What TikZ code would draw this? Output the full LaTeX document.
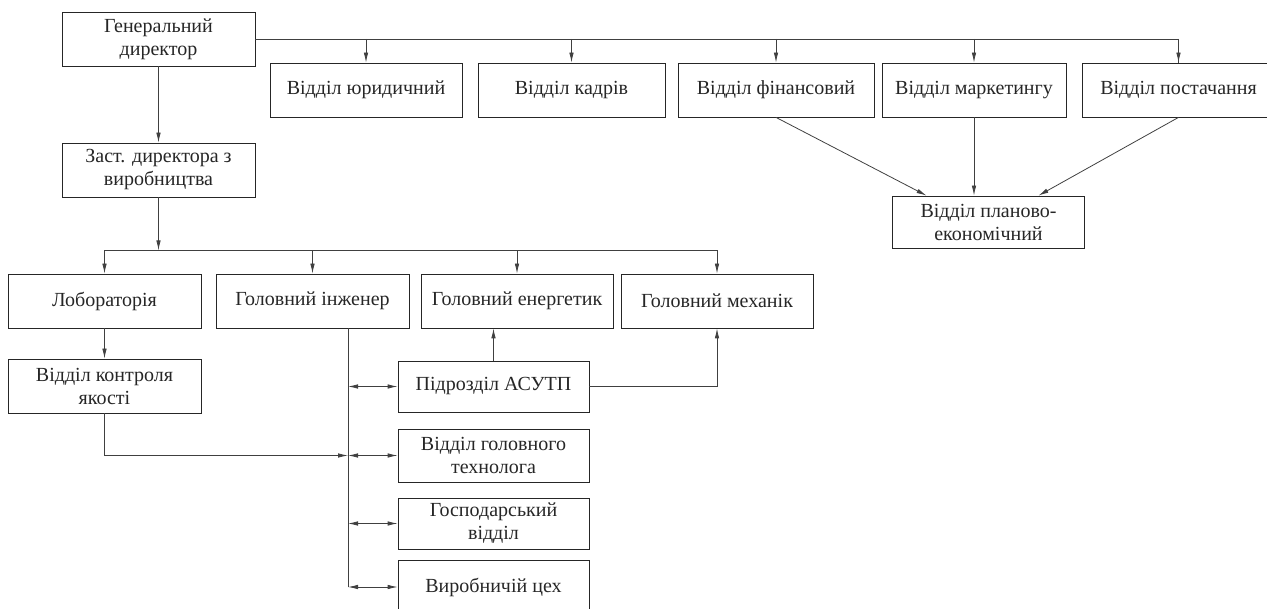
\documentclass[tikz,border=0pt]{standalone}
\usepackage{fontspec}
\setmainfont{Liberation Serif}
\usepackage{tikz}
\usetikzlibrary{arrows.meta,calc}

\tikzset{
  unit/.style={draw=black!85, line width=0.8pt, inner sep=2pt, align=center,
    minimum width=193pt, minimum height=54pt,
    font=\fontsize{20}{23}\selectfont, text=black!85},
  link/.style={draw=black!75, line width=0.8pt}
}

\begin{document}
\begin{tikzpicture}[x=1pt, y=-1pt, >={Latex[length=10pt,width=4.5pt]}]
  \useasboundingbox (0,0) rectangle (1267,609);

% top level
  \node[unit] (gen) at (158.5,39) {Генеральний\\директор};
  \node[unit, minimum width=192pt] (jur) at (366,90) {Відділ юридичний};
  \node[unit, minimum width=187pt] (kadr) at (571.5,90) {Відділ кадрів};
  \node[unit, minimum width=196pt] (fin) at (776,90) {Відділ фінансовий};
  \node[unit, minimum width=184pt] (mark) at (974,90) {Відділ маркетингу};
  \node[unit] (post) at (1178.5,90) {Відділ постачання};
  \node[unit, minimum width=192pt, minimum height=52pt] (plan) at (988.5,222) {Відділ планово-\\економічний};

  \draw[link] (gen.east) -| (post.north);
  \foreach \n in {jur,kadr,fin,mark,post}
    \draw[link,->] (\n.north |- gen.east) -- (\n.north);

  \draw[link,->] (fin.south) -- ([xshift=-62pt]plan.north);
  \draw[link,->] (mark.south) -- (plan.north -| mark.south);
  \draw[link,->] (post.south) -- ([xshift=50pt]plan.north);

% production branch
  \node[unit] (zast) at (158.5,170) {Заст. директора з\\виробництва};
  \draw[link,->] (gen.south) -- (zast.north);

  \node[unit] (lab) at (104.5,301) {Лобораторія};
  \node[unit] (inzh) at (312.5,301) {Головний інженер};
  \node[unit, minimum width=192pt] (energ) at (517,301) {Головний енергетик};
  \node[unit, minimum width=192pt] (mech) at (717,301) {Головний механік};

  \coordinate (bus) at ($(zast.south)+(0,53)$);
  \draw[link,->] (zast.south) -- (bus);
  \draw[link] (bus -| lab.north) -- (bus -| mech.north);
  \foreach \n in {lab,inzh,energ,mech}
    \draw[link,->] (bus -| \n.north) -- (\n.north);

  \node[unit] (kontr) at (104.5,386) {Відділ контроля\\якості};
  \draw[link,->] (lab.south) -- (kontr.north);

  \node[unit, minimum width=191pt, minimum height=51pt] (asutp) at (493.5,386.5) {Підрозділ АСУТП};
  \node[unit, minimum width=191pt, minimum height=53pt] (tech) at (493.5,455.5) {Відділ головного\\технолога};
  \node[unit, minimum width=191pt, minimum height=51pt] (gosp) at (493.5,523.5) {Господарський\\відділ};
  \node[unit, minimum width=191pt] (cekh) at (493.5,587) {Виробничій цех};

  \coordinate (spine) at ([xshift=35.5pt]inzh.south);
  \draw[link] (spine) -- (spine |- cekh.west);
  \foreach \n in {asutp,tech,gosp,cekh}
    \draw[link,<->] (spine |- \n.west) -- (\n.west);

  \draw[link,->] (kontr.south) |- (spine |- tech.west);
  \draw[link,->] (asutp.north) -- (asutp.north |- energ.south);
  \draw[link,->] (asutp.east) -| (mech.south);
\end{tikzpicture}
\end{document}
